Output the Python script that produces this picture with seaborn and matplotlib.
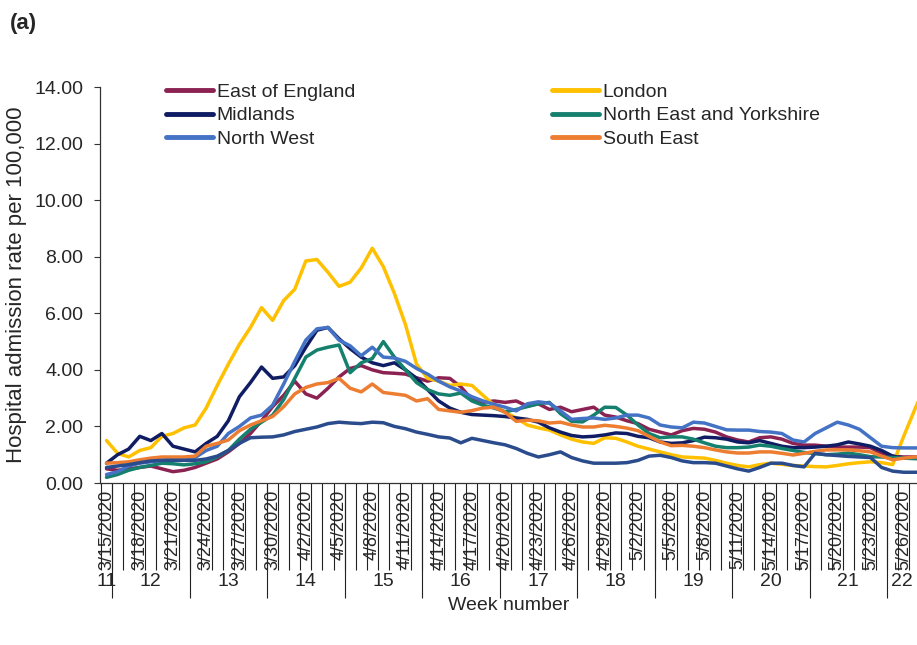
import numpy as np
import pandas as pd
import matplotlib.pyplot as plt
import seaborn as sns

# daily hospital admission rate per 100,000, 15 Mar - 28 May 2020
dates = pd.date_range("2020-03-15", periods=75, freq="D")

east_of_england = [0.5, 0.45, 0.5, 0.55, 0.6, 0.5, 0.4, 0.45, 0.55, 0.7,
                   0.85, 1.1, 1.4, 1.75, 2.2, 2.7, 3.1, 3.6, 3.15, 3.0,
                   3.35, 3.75, 4.05, 4.15, 4.0, 3.9, 3.88, 3.85, 3.72, 3.6,
                   3.72, 3.7, 3.4, 2.95, 2.85, 2.9, 2.85, 2.9, 2.72, 2.8,
                   2.6, 2.68, 2.52, 2.6, 2.68, 2.4, 2.33, 2.2, 2.1, 1.9,
                   1.8, 1.7, 1.85, 1.93, 1.9, 1.8, 1.63, 1.52, 1.45, 1.6,
                   1.63, 1.55, 1.4, 1.34, 1.34, 1.3, 1.27, 1.27, 1.27, 1.25,
                   1.05, 0.95, 0.92, 0.92, 0.92]
london = [1.5, 1.05, 0.92, 1.15, 1.25, 1.65, 1.75, 1.95, 2.05, 2.65,
          3.45, 4.2, 4.9, 5.5, 6.2, 5.75, 6.45, 6.85, 7.85, 7.9,
          7.45, 6.95, 7.1, 7.6, 8.3, 7.65, 6.7, 5.6, 4.2, 3.7,
          3.6, 3.45, 3.5, 3.45, 3.1, 2.75, 2.5, 2.3, 2.05, 1.95,
          1.87, 1.7, 1.55, 1.45, 1.4, 1.6, 1.58, 1.45, 1.3, 1.2,
          1.1, 1.0, 0.92, 0.9, 0.88, 0.8, 0.7, 0.62, 0.57, 0.65,
          0.7, 0.66, 0.62, 0.6, 0.58, 0.57, 0.62, 0.68, 0.72, 0.75,
          0.72, 0.65, 1.65, 2.6, 3.5]
midlands = [0.7, 1.0, 1.2, 1.65, 1.5, 1.75, 1.3, 1.2, 1.1, 1.4,
            1.65, 2.2, 3.05, 3.55, 4.1, 3.7, 3.75, 4.15, 4.8, 5.4,
            5.5, 5.1, 4.75, 4.45, 4.25, 4.15, 4.25, 4.0, 3.7, 3.3,
            2.9, 2.65, 2.5, 2.42, 2.4, 2.38, 2.35, 2.3, 2.25, 2.15,
            1.95, 1.8, 1.68, 1.63, 1.65, 1.7, 1.77, 1.75, 1.65, 1.6,
            1.45, 1.4, 1.42, 1.5, 1.62, 1.6, 1.55, 1.45, 1.42, 1.5,
            1.4, 1.3, 1.25, 1.25, 1.27, 1.3, 1.35, 1.45, 1.38, 1.3,
            1.15, 0.95, 0.88, 0.88, 0.88]
north_east_yorkshire = [0.2, 0.3, 0.45, 0.55, 0.62, 0.7, 0.68, 0.64, 0.68, 0.75,
                        0.92, 1.15, 1.55, 1.9, 2.15, 2.4, 2.95, 3.7, 4.45, 4.7,
                        4.8, 4.88, 3.9, 4.25, 4.4, 5.0, 4.45, 4.0, 3.55, 3.3,
                        3.15, 3.1, 3.18, 2.9, 2.75, 2.65, 2.52, 2.6, 2.7, 2.8,
                        2.85, 2.45, 2.18, 2.16, 2.4, 2.68, 2.67, 2.4, 2.05, 1.75,
                        1.6, 1.63, 1.63, 1.55, 1.42, 1.3, 1.25, 1.25, 1.27, 1.34,
                        1.3, 1.22, 1.15, 1.08, 1.04, 1.0, 1.02, 1.06, 1.0, 0.93,
                        0.92, 0.9, 0.88, 0.86, 0.85]
north_west = [0.3, 0.4, 0.6, 0.7, 0.75, 0.8, 0.85, 0.85, 0.9, 1.15,
              1.3, 1.75, 2.0, 2.3, 2.4, 2.75, 3.5, 4.3, 5.05, 5.45,
              5.5, 5.05, 4.85, 4.5, 4.8, 4.45, 4.42, 4.3, 4.05, 3.85,
              3.6, 3.4, 3.25, 3.05, 2.9, 2.78, 2.68, 2.55, 2.8, 2.87,
              2.82, 2.55, 2.25, 2.28, 2.3, 2.25, 2.3, 2.4, 2.4, 2.3,
              2.05, 1.98, 1.95, 2.15, 2.12, 2.0, 1.88, 1.87, 1.87, 1.82,
              1.8, 1.75, 1.52, 1.45, 1.75, 1.95, 2.15, 2.05, 1.9, 1.6,
              1.3, 1.25, 1.24, 1.24, 1.24]
south_east = [0.7, 0.72, 0.75, 0.82, 0.88, 0.92, 0.92, 0.92, 0.95, 1.3,
              1.4, 1.52, 1.85, 2.05, 2.2, 2.35, 2.7, 3.15, 3.38, 3.5,
              3.55, 3.7, 3.35, 3.22, 3.5, 3.2, 3.15, 3.1, 2.9, 2.98,
              2.6, 2.55, 2.5, 2.56, 2.65, 2.68, 2.5, 2.18, 2.22, 2.2,
              2.12, 2.15, 2.05, 1.98, 1.98, 2.04, 2.0, 1.94, 1.85, 1.65,
              1.45, 1.32, 1.33, 1.3, 1.25, 1.17, 1.1, 1.06, 1.06, 1.1,
              1.1, 1.05, 0.99, 1.05, 1.12, 1.17, 1.17, 1.17, 1.14, 1.1,
              0.95, 0.82, 0.88, 0.92, 0.92]
south_west = [0.55, 0.6, 0.65, 0.72, 0.78, 0.8, 0.8, 0.8, 0.8, 0.85,
              0.95, 1.15, 1.4, 1.6, 1.62, 1.63, 1.7, 1.82, 1.9, 1.98,
              2.1, 2.15, 2.12, 2.1, 2.15, 2.13, 2.0, 1.92, 1.8, 1.72,
              1.63, 1.59, 1.42, 1.58, 1.5, 1.42, 1.35, 1.22, 1.05, 0.92,
              1.0, 1.1, 0.9, 0.78, 0.7, 0.7, 0.7, 0.72, 0.8, 0.95,
              0.98, 0.9, 0.78, 0.72, 0.72, 0.7, 0.6, 0.5, 0.42, 0.55,
              0.7, 0.7, 0.62, 0.57, 1.05, 1.0, 0.97, 0.94, 0.92, 0.9,
              0.55, 0.42, 0.38, 0.38, 0.38]

regions = ["East of England", "London", "Midlands", "North East and Yorkshire",
           "North West", "South East", "South West"]
colors = ["#8B2252", "#FFC000", "#101C63", "#15806E", "#4472C4", "#ED7D31", "#2B4C8C"]
week_numbers = list(range(11, 23))

df = pd.DataFrame({"day": np.arange(len(dates))})
for name, vals in zip(regions, [east_of_england, london, midlands, north_east_yorkshire,
                                north_west, south_east, south_west]):
    df[name] = vals
long_df = df.melt(id_vars="day", var_name="Region", value_name="Rate")

sns.set_style("white")
plt.rcParams['font.family'] = ['Liberation Sans', 'DejaVu Sans']

W, H = 917, 645
fig = plt.figure(figsize=(W / 100, H / 100), dpi=100)
ax_left, ax_bottom, ax_top = 100, 483, 87
ax = fig.add_axes([ax_left / W, (H - ax_bottom) / H, 1 - ax_left / W, (ax_bottom - ax_top) / H])

sns.lineplot(data=long_df, x="day", y="Rate", hue="Region", hue_order=regions,
             palette=dict(zip(regions, colors)), linewidth=2.5, legend=False, ax=ax)

x_right = 73.2
ax.set_xlim(-0.59, x_right)
ax.set_ylim(0, 14)
ax.set_yticks(np.arange(0, 15, 2))
ax.set_yticklabels([f"{v:.2f}" for v in np.arange(0, 15, 2)], fontsize=14)
ax.tick_params(axis='y', direction='out', length=4, width=0.8, color='#333333', pad=8, left=True)
ax.set_ylabel("Hospital admission rate per 100,000", fontsize=16, labelpad=5)

# date labels every third day
label_days = list(range(0, 73, 3))
ax.set_xticks(label_days)
ax.set_xticklabels([f"{dates[d].month}/{dates[d].day}/{dates[d].year}" for d in label_days],
                   rotation=90, fontsize=13)
ax.tick_params(axis='x', length=0, pad=5)

for s in ["top", "right"]:
    ax.spines[s].set_visible(False)
for s in ["left", "bottom"]:
    ax.spines[s].set_color('#333333')
    ax.spines[s].set_linewidth(0.9)

# category tick lines below the axis (one per day, longer ones at week breaks)
trans = ax.get_xaxis_transform()
px = 1 / (ax_bottom - ax_top)
ax.vlines(np.arange(-0.5, x_right, 1), -(570 - ax_bottom) * px, 0, transform=trans,
          clip_on=False, color='#222222', lw=0.8)
week_starts = [0] + [d for d in range(1, len(dates)) if dates[d].weekday() == 0]
ax.vlines([d - 0.5 for d in week_starts[1:]], -(598 - ax_bottom) * px, 0, transform=trans,
          clip_on=False, color='#222222', lw=0.8)
week_ends = week_starts[1:] + [x_right + 0.5]
for wk, s, e in zip(week_numbers, week_starts, week_ends):
    centre = (s + min(e - 1, x_right)) / 2
    ax.text(centre, -(581 - ax_bottom) * px, str(wk), transform=trans,
            ha='center', va='center', fontsize=14)
ax.set_xlabel("Week number", fontsize=14)
ax.xaxis.set_label_coords(0.5, -(597 - ax_bottom) * px)

# legend (South West entry is not shown in the original)
lines = dict(zip(regions, ax.get_lines()))
order = ["East of England", "Midlands", "North West",
         "London", "North East and Yorkshire", "South East"]
leg = ax.legend([lines[r] for r in order], order, ncol=2, loc='upper left',
                bbox_to_anchor=(166 / W, 1 - 83 / H), bbox_transform=fig.transFigure,
                frameon=False, fontsize=14, handlelength=2.4, handletextpad=0.2,
                labelspacing=0.32, columnspacing=10.15, borderpad=0, borderaxespad=0)
for ln in leg.get_lines():
    ln.set_linewidth(3.5)

fig.text(10 / W, 1 - 23 / H, "(a)", fontsize=16, fontweight='bold', va='center', ha='left')

fig.savefig("out.png", dpi=100)
